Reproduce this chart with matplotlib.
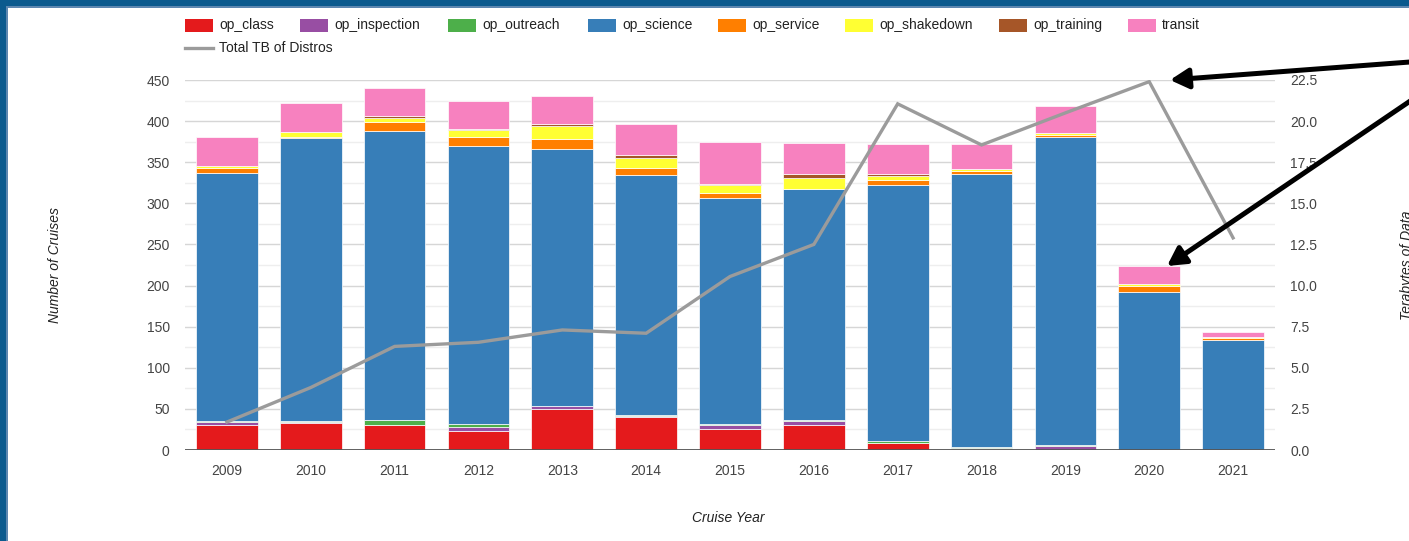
import matplotlib
matplotlib.use("Agg")
import matplotlib.pyplot as plt
from matplotlib.patches import Rectangle, FancyArrowPatch
from matplotlib.lines import Line2D
import numpy as np

plt.rcParams["font.family"] = ["Liberation Sans", "DejaVu Sans"]

years = ["2009", "2010", "2011", "2012", "2013", "2014", "2015",
         "2016", "2017", "2018", "2019", "2020", "2021"]

op_class = [30, 33, 30, 23, 50, 40, 26, 30, 8, 1, 0, 0, 0]
op_inspection = [4, 1, 1, 5, 3, 1, 4, 5, 1, 1, 5, 0, 0]
op_outreach = [1, 1, 5, 4, 0, 2, 2, 1, 2, 2, 1, 0, 0]
op_science = [302, 345, 352, 338, 313, 292, 275, 281, 311, 332, 375, 192, 134]
op_service = [6, 1, 11, 11, 12, 8, 6, 1, 6, 3, 2, 7, 2]
op_shakedown = [3, 6, 5, 8, 16, 12, 9, 13, 5, 3, 2, 3, 1]
op_training = [0, 0, 2, 2, 3, 4, 1, 5, 3, 0, 0, 0, 0]
transit = [35, 35, 34, 34, 34, 38, 51, 37, 36, 30, 33, 22, 7]

total_tb = [1.7, 3.8, 6.3, 6.55, 7.3, 7.1, 10.55, 12.5, 21.05, 18.55, 20.5, 22.4, 12.9]

series_names = ["op_class", "op_inspection", "op_outreach", "op_science",
                "op_service", "op_shakedown", "op_training", "transit"]
series_vals = [op_class, op_inspection, op_outreach, op_science,
               op_service, op_shakedown, op_training, transit]
series_colors = ["#e41a1c", "#984ea3", "#4daf4a", "#377eb8",
                 "#ff7f00", "#ffff33", "#a65628", "#f781bf"]
line_color = "#9b9b9b"

W, H = 1409, 541
fig = plt.figure(figsize=(W / 100, H / 100), dpi=100)


def fx(px):
    return px / W


def fy(py):
    return (H - py) / H


# blue frame on top / left edges (screenshot border)
fig.patches.append(Rectangle((0, 0), 1, 1, transform=fig.transFigure,
                             facecolor="#0b5a8e", edgecolor="none", zorder=-10))
fig.patches.append(Rectangle((fx(6), 0), 1, fy(6), transform=fig.transFigure,
                             facecolor="#5d87b0", edgecolor="none", zorder=-9))
fig.patches.append(Rectangle((fx(8), 0), 1, fy(8), transform=fig.transFigure,
                             facecolor="white", edgecolor="none", zorder=-8))

ax = fig.add_axes([fx(185), fy(450), fx(1275) - fx(185), fy(80) - fy(450)])
ax.patch.set_alpha(0)

x = np.arange(len(years))
bottom = np.zeros(len(years))
for name, vals, c in zip(series_names, series_vals, series_colors):
    v = np.array(vals, dtype=float)
    ax.bar(x, v, width=0.735, bottom=bottom, color=c, edgecolor="white",
           linewidth=0.5, zorder=2)
    bottom += v

ax.set_xlim(-0.5, len(years) - 0.5)
ax.set_ylim(0, 450)
ax.set_yticks(np.arange(0, 451, 50))
ax.set_yticks(np.arange(25, 451, 50), minor=True)
ax.yaxis.grid(True, which="major", color="#d6d6d6", lw=1)
ax.yaxis.grid(True, which="minor", color="#eeeeee", lw=1)
ax.set_axisbelow(True)
ax.axhline(0, color="#555555", lw=1.3, zorder=3)
ax.set_xticks(x)
ax.set_xticklabels(years)
for s in ax.spines.values():
    s.set_visible(False)
ax.tick_params(axis="both", which="both", length=0, labelsize=10, colors="#444444")
ax.tick_params(axis="x", pad=10)
ax.tick_params(axis="y", pad=11)

ax2 = ax.twinx()
ax2.plot(x, total_tb, color=line_color, lw=2.4, zorder=5, solid_joinstyle="miter")
ax2.set_ylim(0, 22.5)
ax2.set_yticks(np.arange(0, 22.51, 2.5))
ax2.set_yticklabels(["%.1f" % v for v in np.arange(0, 22.51, 2.5)])
for s in ax2.spines.values():
    s.set_visible(False)
ax2.tick_params(axis="y", length=0, labelsize=10, colors="#444444", pad=11)

# axis titles
fig.text(fx(55), fy(265), "Number of Cruises", rotation=90, ha="center", va="center",
         fontsize=10, style="italic", color="#222222")
fig.text(fx(1407), fy(265), "Terabytes of Data", rotation=90, ha="center", va="center",
         fontsize=10, style="italic", color="#222222")
fig.text(fx(728), fy(518), "Cruise Year", ha="center", va="center",
         fontsize=10, style="italic", color="#222222")

# legend, drawn by hand to match positions
leg_left = [185, 300, 448, 588, 718, 845, 999, 1128]
for lx, name, c in zip(leg_left, series_names, series_colors):
    fig.patches.append(Rectangle((fx(lx), fy(31.5)), fx(28), 13 / H,
                                 transform=fig.transFigure, facecolor=c,
                                 edgecolor="none"))
    fig.text(fx(lx + 34), fy(25), name, ha="left", va="center",
             fontsize=10, color="#222222")
fig.add_artist(Line2D([fx(185), fx(213)], [fy(48), fy(48)],
                      transform=fig.transFigure, color=line_color, lw=2.4))
fig.text(fx(219), fy(48), "Total TB of Distros", ha="left", va="center",
         fontsize=10, color="#222222")

# black annotation arrows coming in from the right edge
arrows = [((1450, 59), (1170, 80)), ((1450, 74), (1167, 266))]
for (ax0, ay0), (ax1, ay1) in arrows:
    fig.add_artist(FancyArrowPatch((fx(ax0), fy(ay0)), (fx(ax1), fy(ay1)),
                                   transform=fig.transFigure,
                                   arrowstyle="-|>,head_length=1.0,head_width=0.55",
                                   mutation_scale=11, lw=3.6, color="black",
                                   shrinkA=0, shrinkB=0))

fig.savefig("out.png", dpi=100)
